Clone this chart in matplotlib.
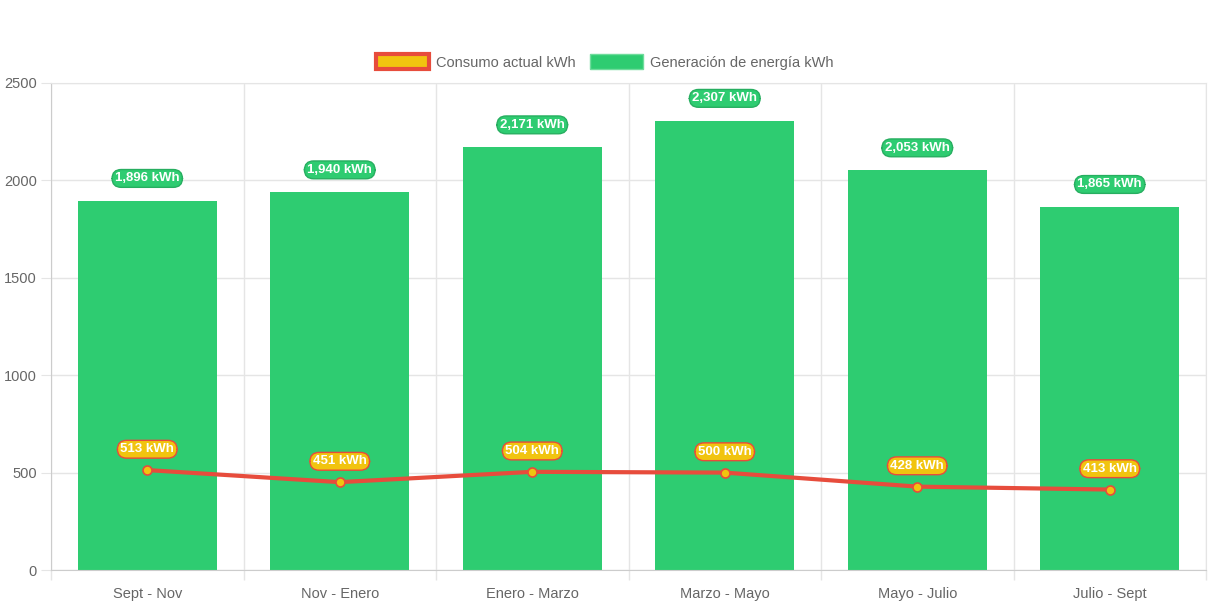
import matplotlib
matplotlib.use("Agg")
import matplotlib.pyplot as plt
from matplotlib.patches import Patch
import numpy as np

plt.rcParams['font.family'] = ['Liberation Sans', 'DejaVu Sans']

categories = ["Sept - Nov", "Nov - Enero", "Enero - Marzo", "Marzo - Mayo", "Mayo - Julio", "Julio - Sept"]
generacion = [1896, 1940, 2171, 2307, 2053, 1865]
consumo = [513, 451, 504, 500, 428, 413]
yticks = [0, 500, 1000, 1500, 2000, 2500]

GREEN = "#2ecc71"
RED = "#e74c3c"
YELLOW = "#f1c40f"
GRID = "#e5e5e5"
TXT = "#666666"

fig = plt.figure(figsize=(12.13, 6.06), dpi=100)
ax = fig.add_axes([51/1213, 36/606, (1206-51)/1213, (570-83)/606])

x = np.arange(len(categories))
ax.bar(x, generacion, width=0.72, color=GREEN, zorder=2)
ax.plot(x, consumo, color=RED, lw=3, zorder=3, solid_capstyle='round')
ax.plot(x, consumo, 'o', ms=6.5, mfc=YELLOW, mec=RED, mew=1.2, zorder=4)

ax.set_xlim(-0.5, len(categories) - 0.5)
ax.set_ylim(0, 2500)
ax.set_yticks(yticks)
ax.set_yticklabels([str(v) for v in yticks])

ax.set_xticks(x)
ax.set_xticklabels(categories)
ax.set_xticks(np.arange(len(categories) + 1) - 0.5, minor=True)
ax.tick_params(axis='x', which='major', length=0, pad=12, labelsize=10.5, colors=TXT)
ax.tick_params(axis='x', which='minor', length=7, color=GRID, width=1)
ax.tick_params(axis='y', length=7, color=GRID, labelsize=10.5, labelcolor=TXT, pad=3)

ax.grid(axis='y', color=GRID, lw=1, zorder=0)
ax.grid(axis='x', which='minor', color=GRID, lw=1, zorder=0)
ax.grid(axis='x', which='major', visible=False)
for s in ['top', 'right']:
    ax.spines[s].set_color(GRID)
for s in ['left', 'bottom']:
    ax.spines[s].set_color("#cccccc")

for xi, v in zip(x, generacion):
    ax.annotate(f"{v:,} kWh", (xi, v), xytext=(0, 16), textcoords='offset points',
                ha='center', va='center', color='white', fontsize=9.5, fontweight='bold',
                bbox=dict(boxstyle='round,pad=0.22,rounding_size=0.7', fc=GREEN, ec="#27ae60", lw=1), zorder=5)
for xi, v in zip(x, consumo):
    ax.annotate(f"{v:,} kWh", (xi, v), xytext=(0, 15), textcoords='offset points',
                ha='center', va='center', color='white', fontsize=9.5, fontweight='bold',
                bbox=dict(boxstyle='round,pad=0.22,rounding_size=0.7', fc=YELLOW, ec=RED, lw=1), zorder=5)

handles = [Patch(facecolor=YELLOW, edgecolor=RED, lw=3, label="Consumo actual kWh"),
           Patch(facecolor=GREEN, edgecolor="#6fdc9c", lw=1, label="Generación de energía kWh")]
fig.legend(handles=handles, loc='center', bbox_to_anchor=(605/1213, 1 - 62/606), ncol=2,
           frameon=False, fontsize=10.5, labelcolor=TXT, handlelength=3.6, handleheight=1.2,
           handletextpad=0.5, columnspacing=1.0)

fig.savefig("out.png", dpi=100, facecolor='white')
